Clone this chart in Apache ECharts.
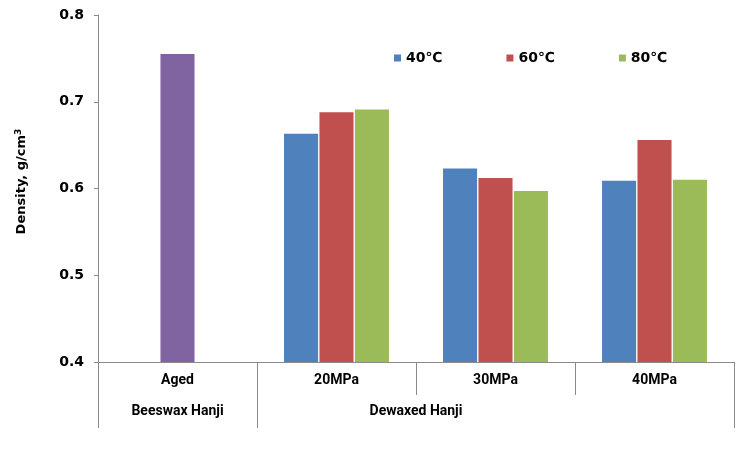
<!DOCTYPE html>
<html>
<head>
<meta charset="utf-8">
<script src="https://cdn.jsdelivr.net/npm/echarts@6/dist/echarts.min.js"></script>
<style>html,body{margin:0;padding:0;background:#fff}#c{width:740px;height:457px}</style>
</head>
<body>
<div id="c"></div>
<script>
const categories = ['Aged', '20MPa', '30MPa', '40MPa'];
const groupLabels = ['Beeswax Hanji', 'Dewaxed Hanji'];
const groupLabelPos = [0.5, 2];
const groupBounds = [0, 1, 4];
const agedBeeswax = [0.755, '-', '-', '-'];
const t40 = ['-', 0.663, 0.623, 0.609];
const t60 = ['-', 0.688, 0.612, 0.656];
const t80 = ['-', 0.691, 0.597, 0.610];
const yTicks = [0.4, 0.5, 0.6, 0.7, 0.8];

const axisColor = '#8a8a8a';
const catFont = 'Roboto, "Liberation Sans", sans-serif';
const numFont = '"DejaVu Sans", Verdana, sans-serif';
const barOpts = {type: 'bar', xAxisIndex: 0, barCategoryGap: '34%', barGap: '4%'};

const chart = echarts.init(document.getElementById('c'), null, {renderer: 'canvas'});
chart.setOption({
  animation: false,
  backgroundColor: '#ffffff',
  grid: {left: 98, right: 6, top: 15, bottom: 95, containLabel: false},
  legend: {
    data: ['40℃', '60℃', '80℃'],
    left: 389, top: 46,
    icon: 'rect', itemWidth: 7, itemHeight: 7, itemGap: 64,
    textStyle: {fontFamily: numFont, fontWeight: 'bold', fontSize: 14, color: '#000'}
  },
  xAxis: [{
    type: 'category', data: categories, position: 'bottom',
    axisLine: {lineStyle: {color: axisColor}},
    axisTick: {show: true, length: 33, alignWithLabel: false, lineStyle: {color: axisColor}},
    axisLabel: {margin: 11, fontFamily: catFont, fontWeight: 'bold', fontSize: 14, color: '#000'}
  }, {
    type: 'value', min: 0, max: 4, position: 'bottom', offset: 33,
    axisLine: {show: false},
    splitLine: {show: false},
    axisTick: {show: true, length: 33, customValues: groupBounds, lineStyle: {color: axisColor}},
    axisLabel: {
      customValues: groupLabelPos, margin: 9,
      fontFamily: catFont, fontWeight: 'bold', fontSize: 14, color: '#000',
      formatter: v => groupLabels[groupLabelPos.indexOf(v)] || ''
    }
  }],
  yAxis: {
    type: 'value', min: yTicks[0], max: yTicks[yTicks.length - 1], interval: 0.1,
    axisLine: {show: true, lineStyle: {color: axisColor}},
    axisTick: {show: true, length: 4, lineStyle: {color: axisColor}},
    splitLine: {show: false},
    axisLabel: {margin: 14, fontFamily: numFont, fontWeight: 'bold', fontSize: 14, color: '#000',
      formatter: v => v.toFixed(1)},
    name: 'Density, g/cm{sup|3}',
    nameLocation: 'middle', nameRotate: 90, nameGap: 69,
    nameTextStyle: {fontFamily: numFont, fontWeight: 'bold', fontSize: 13, color: '#000',
      padding: [0, 0, 0, 14],
      rich: {sup: {fontFamily: numFont, fontWeight: 'bold', fontSize: 9, color: '#000', padding: [0, 0, 6, 0]}}}
  },
  series: [
    Object.assign({name: '40℃', data: t40, itemStyle: {color: '#4F81BD'}}, barOpts),
    Object.assign({name: '60℃', stack: 'mid', data: t60, itemStyle: {color: '#C0504D'}}, barOpts),
    Object.assign({name: '80℃', data: t80, itemStyle: {color: '#9BBB59'}}, barOpts),
    Object.assign({name: 'Aged', stack: 'mid', data: agedBeeswax, itemStyle: {color: '#8064A2'}}, barOpts)
  ]
});
</script>
</body>
</html>
